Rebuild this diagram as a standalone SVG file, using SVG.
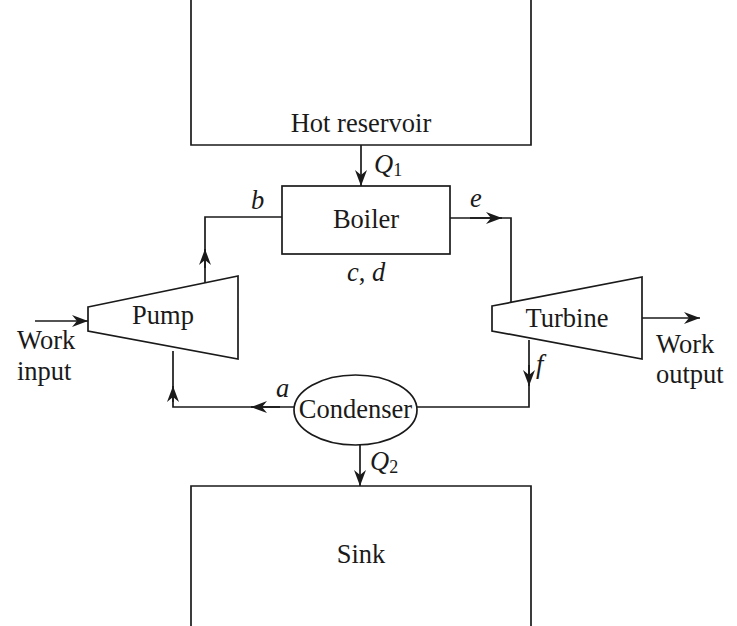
<svg xmlns="http://www.w3.org/2000/svg" width="737" height="626" viewBox="0 0 737 626">
<style>
.ln{fill:none;stroke:#1a1a1a;stroke-width:1.7}
.sh{fill:#fff;stroke:#1a1a1a;stroke-width:1.7}
.t{font-family:"Liberation Serif","Times New Roman",serif;font-size:26.5px;fill:#1a1a1a}
.i{font-family:"Liberation Serif","Times New Roman",serif;font-size:26.5px;font-style:italic;fill:#1a1a1a}
.sub{font-size:18px;font-style:normal}
</style>
<defs>
<marker id="ah" viewBox="0 0 16 12" refX="16" refY="6" markerUnits="userSpaceOnUse" markerWidth="16" markerHeight="12" orient="auto">
<path d="M0,0 L16,6 L0,12 L5,6 Z" fill="#1a1a1a"/>
</marker>
</defs>
<rect width="737" height="626" fill="#fff"/>
<g id="connectors">
<path class="ln" d="M361,145 V186" marker-end="url(#ah)"/>
<path class="ln" d="M282,217 H205 V283"/>
<path class="ln" d="M205,268 V249" marker-end="url(#ah)"/>
<path class="ln" d="M450,218 H511 V303"/>
<path class="ln" d="M470,218 H502" marker-end="url(#ah)"/>
<path class="ln" d="M529,340 V407 H417"/>
<path class="ln" d="M529,365 V386" marker-end="url(#ah)"/>
<path class="ln" d="M294,407 H173 V351"/>
<path class="ln" d="M280,407 H251" marker-end="url(#ah)"/>
<path class="ln" d="M173,402 V386" marker-end="url(#ah)"/>
<path class="ln" d="M360,445 V486" marker-end="url(#ah)"/>
<path class="ln" d="M35,321 H88" marker-end="url(#ah)"/>
<path class="ln" d="M642,318 H700" marker-end="url(#ah)"/>
</g>
<g id="hot-reservoir">
<path class="ln" d="M191,0 V145 H531 V0"/>
<text class="t" x="361" y="132" text-anchor="middle">Hot reservoir</text>
</g>
<g id="sink">
<path class="ln" d="M191,626 V486 H531 V626"/>
<text class="t" x="361" y="563" text-anchor="middle">Sink</text>
</g>
<g id="boiler">
<rect class="sh" x="282" y="186" width="168" height="68"/>
<text class="t" x="366" y="228" text-anchor="middle">Boiler</text>
</g>
<g id="pump">
<polygon class="sh" points="88,307 238,276 238,359 88,331"/>
<text class="t" x="163" y="324" text-anchor="middle">Pump</text>
</g>
<g id="turbine">
<polygon class="sh" points="492,306 642,277 642,359 492,331"/>
<text class="t" x="567" y="327" text-anchor="middle">Turbine</text>
</g>
<g id="condenser">
<ellipse class="sh" cx="355.5" cy="410" rx="61.5" ry="35"/>
<text class="t" x="355.5" y="418" text-anchor="middle">Condenser</text>
</g>
<g id="labels">
<text class="i" x="374" y="173">Q<tspan class="sub" dy="3">1</tspan></text>
<text class="i" x="370" y="470">Q<tspan class="sub" dy="3">2</tspan></text>
<text class="i" x="251" y="209">b</text>
<text class="i" x="470" y="207">e</text>
<text class="i" x="347" y="281">c<tspan font-style="normal">,</tspan> d</text>
<text class="i" x="276" y="397">a</text>
<text class="i" x="536" y="373">f</text>
<text class="t" x="17" y="349">Work</text>
<text class="t" x="17" y="380">input</text>
<text class="t" x="656" y="353">Work</text>
<text class="t" x="656" y="383">output</text>
</g>
</svg>
